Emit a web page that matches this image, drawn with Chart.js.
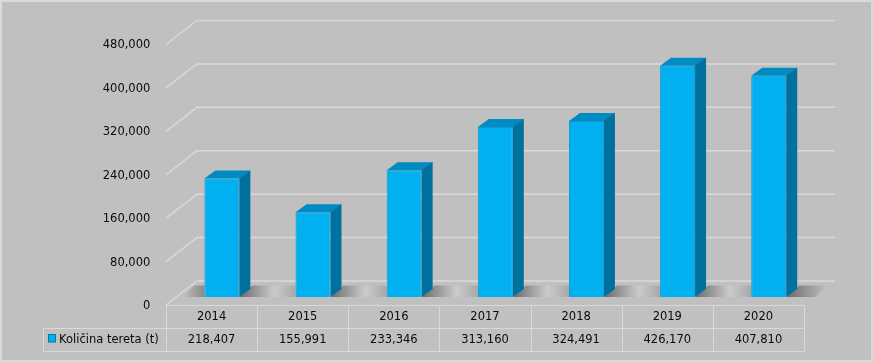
<!DOCTYPE html>
<html><head><meta charset="utf-8">
<script src="https://cdn.jsdelivr.net/npm/chart.js@4/dist/chart.umd.min.js"></script>
<style>html,body{margin:0;padding:0;background:#c0c0c0;overflow:hidden}canvas{display:block}</style>
</head><body>
<canvas id="c" width="873" height="362" style="width:873px;height:362px"></canvas>
<script>
const categories = ['2014', '2015', '2016', '2017', '2018', '2019', '2020'];
const seriesName = 'Količina tereta (t)';
const cargoValues = [218407, 155991, 233346, 313160, 324491, 426170, 407810];
const axisMin = 0;
const axisMax = 480000;
const axisStep = 80000;

const FONT_FAMILY = 'DejaVu Sans';
const FONT_SIZE = 11.5;
const TEXT_COLOR = '#0a0a0a';
const BG = '#c0c0c0';
const GRID_COLOR = '#d9d9d9';
const FRONT = {dx: -10.3, dy: 8};
const BACK = {dx: 20.7, dy: -16};
const BAR_DEPTH = {dx: 11, dy: 8};
const fmt = v => Number(v).toLocaleString('en-US');

function poly(ctx, pts, fill) {
  ctx.beginPath();
  ctx.moveTo(pts[0][0], pts[0][1]);
  for (let i = 1; i < pts.length; i++) ctx.lineTo(pts[i][0], pts[i][1]);
  ctx.closePath();
  ctx.fillStyle = fill;
  ctx.fill();
}

const scenePlugin = {
  id: 'scene',
  beforeDraw(chart) {
    const ctx = chart.ctx;
    ctx.save();
    ctx.fillStyle = BG;
    ctx.fillRect(0, 0, chart.width, chart.height);
    ctx.restore();
  },
  beforeDatasetsDraw(chart) {
    const ctx = chart.ctx;
    const ca = chart.chartArea;
    const ys = chart.scales.y;
    ctx.save();
    ctx.strokeStyle = GRID_COLOR;
    ctx.lineWidth = 1.5;
    for (let v = axisMin; v <= axisMax; v += axisStep) {
      const yb = ys.getPixelForValue(v);
      ctx.beginPath();
      ctx.moveTo(ca.left + FRONT.dx, yb + FRONT.dy);
      ctx.lineTo(ca.left + BACK.dx, yb + BACK.dy);
      ctx.lineTo(ca.right + BACK.dx, yb + BACK.dy);
      ctx.stroke();
    }
    const meta = chart.getDatasetMeta(0);
    const base = ys.getPixelForValue(0);
    const top = base - 11.5;
    const bars = meta.data.map(b => ({l: b.x - b.width / 2, r: b.x + b.width / 2}));
    {
      const b = bars[0];
      const g = ctx.createLinearGradient(b.l - 22, 0, b.l, 0);
      g.addColorStop(0, 'rgba(192,192,192,1)');
      g.addColorStop(1, '#8a8a8a');
      poly(ctx, [[b.l - 22, base], [b.l - 10, top], [b.l, top], [b.l, base]], g);
    }
    for (let i = 0; i < bars.length; i++) {
      const b = bars[i];
      const last = i === bars.length - 1;
      const endTop = last ? ca.right + 13 : bars[i + 1].l;
      const endBot = last ? ca.right + 1 : bars[i + 1].l;
      const g = ctx.createLinearGradient(b.r, 0, endTop, 0);
      g.addColorStop(0, '#6a6a6a');
      if (last) {
        g.addColorStop(1, 'rgba(192,192,192,1)');
      } else {
        g.addColorStop(0.62, '#cbcbcb');
        g.addColorStop(1, '#a8a8a8');
      }
      poly(ctx, [[b.r, base], [b.r + 13, top], [endTop, top], [endBot, base]], g);
    }
    ctx.restore();
  },
  afterDatasetsDraw(chart) {
    const ctx = chart.ctx;
    const meta = chart.getDatasetMeta(0);
    ctx.save();
    meta.data.forEach(b => {
      const l = b.x - b.width / 2, r = b.x + b.width / 2;
      const t = b.y, bs = b.base;
      const dx = BAR_DEPTH.dx, dy = BAR_DEPTH.dy;
      poly(ctx, [[r, t], [r + dx, t - dy], [r + dx, bs - dy], [r, bs]], '#00709f');
      poly(ctx, [[l, t], [l + dx, t - dy], [r + dx, t - dy], [r, t]], '#008cc3');
      ctx.strokeStyle = 'rgba(0,90,130,0.5)';
      ctx.lineWidth = 1;
      ctx.beginPath();
      ctx.moveTo(r, t); ctx.lineTo(r + dx, t - dy);
      ctx.stroke();
    });
    ctx.restore();
  },
  afterDraw(chart) {
    const ctx = chart.ctx;
    const ca = chart.chartArea;
    const xs = chart.scales.x;
    const ys = chart.scales.y;
    const n = categories.length;
    const colW = (ca.right - ca.left) / n;
    const left = ca.left + FRONT.dx;
    const right = ca.right + FRONT.dx;
    const y0 = ys.getPixelForValue(0) + FRONT.dy;
    const rowH = 23;
    const legLeft = 43;
    ctx.save();
    ctx.strokeStyle = GRID_COLOR;
    ctx.lineWidth = 1;
    const hl = (x1, x2, y) => { ctx.beginPath(); ctx.moveTo(x1, Math.round(y) + 0.5); ctx.lineTo(x2, Math.round(y) + 0.5); ctx.stroke(); };
    const vl = (x, y1, y2) => { ctx.beginPath(); ctx.moveTo(Math.round(x) + 0.5, y1); ctx.lineTo(Math.round(x) + 0.5, y2); ctx.stroke(); };
    hl(left, right, y0);
    hl(legLeft, right, y0 + rowH);
    hl(legLeft, right, y0 + 2 * rowH);
    vl(legLeft, Math.round(y0 + rowH) + 0.5, Math.round(y0 + 2 * rowH) + 0.5);
    for (let i = 0; i <= n; i++) vl(left + i * colW, Math.round(y0) + 0.5, Math.round(y0 + 2 * rowH) + 0.5);
    ctx.fillStyle = TEXT_COLOR;
    ctx.font = FONT_SIZE + 'px "' + FONT_FAMILY + '"';
    ctx.textAlign = 'center';
    ctx.textBaseline = 'middle';
    for (let i = 0; i < n; i++) {
      const cx = xs.getPixelForValue(i) + FRONT.dx;
      ctx.fillText(categories[i], cx, y0 + rowH / 2 + 1);
      ctx.fillText(fmt(cargoValues[i]), cx, y0 + rowH * 1.5 + 1);
    }
    ctx.fillStyle = '#00b0f0';
    ctx.fillRect(48, Math.round(y0 + rowH + 6), 7.5, 8);
    ctx.strokeStyle = '#0079a8';
    ctx.strokeRect(48.5, Math.round(y0 + rowH + 6) + 0.5, 7, 7.5);
    ctx.fillStyle = TEXT_COLOR;
    ctx.textAlign = 'left';
    ctx.fillText(seriesName, 59, y0 + rowH * 1.5 + 1);
    ctx.strokeStyle = '#dadada';
    ctx.lineWidth = 2;
    ctx.strokeRect(1, 1, chart.width - 2, chart.height - 2);
    ctx.restore();
  }
};

new Chart(document.getElementById('c'), {
  type: 'bar',
  data: {
    labels: categories,
    datasets: [{
      label: seriesName,
      data: cargoValues,
      backgroundColor: '#00b0f0',
      borderColor: '#0a9bd3',
      borderWidth: 1,
      barPercentage: 0.384,
      categoryPercentage: 1
    }]
  },
  options: {
    responsive: false,
    animation: false,
    events: [],
    layout: {padding: {left: 0, top: 36.5, right: 58.7, bottom: 65}},
    plugins: {legend: {display: false}, tooltip: {enabled: false}},
    scales: {
      x: {display: false, offset: true},
      y: {
        min: axisMin, max: axisMax,
        afterFit(scale) { scale.width = 176.3; },
        grid: {display: false, drawTicks: false},
        border: {display: false},
        ticks: {
          stepSize: axisStep,
          padding: 26,
          labelOffset: 9,
          color: TEXT_COLOR,
          font: {family: FONT_FAMILY, size: FONT_SIZE},
          callback: v => fmt(v)
        }
      }
    }
  },
  plugins: [scenePlugin]
});
</script>
</body></html>
